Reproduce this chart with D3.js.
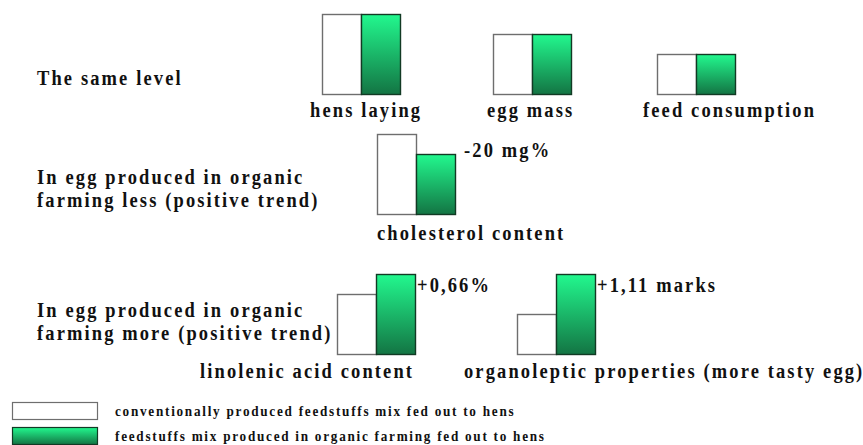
<!DOCTYPE html>
<html>
<head>
<meta charset="utf-8">
<script src="https://cdn.jsdelivr.net/npm/d3@7"></script>
<style>
  html, body { margin: 0; padding: 0; background: #fff; }
  svg { display: block; }
</style>
</head>
<body>
<svg id="chart" width="863" height="445"></svg>
<script>
// Indicators compared between the two feed mixes (relative levels)
const indicators = ["hens laying", "egg mass", "feed consumption", "cholesterol content",
                    "linolenic acid content", "organoleptic properties (more tasty egg)"];
const conventional = [4, 3, 2, 4, 3, 2];
const organic      = [4, 3, 2, 3, 4, 4];
const differences  = ["", "", "", "-20 mg%", "+0,66%", "+1,11 marks"];
const groupOf      = [0, 0, 0, 1, 2, 2];

const groupTitles = [
  ["The same level"],
  ["In egg produced in organic", "farming less (positive trend)"],
  ["In egg produced in organic", "farming more (positive trend)"]
];
const seriesNames = ["conventionally produced feedstuffs mix fed out to hens",
                     "feedstuffs mix produced in organic farming fed out to hens"];

// Layout of the panels
const baseY   = [94, 214, 354];        // bottom edge of bars for each group
const pairX   = [322, 493, 657, 377, 337, 517];   // left edge of each pair
const labelX  = [310, 487, 643, 377, 200, 464];
const labelY  = [117, 117, 117, 240, 378, 378];
const titleY  = [[85], [184, 207], [317, 340]];
const barW = 39;

const FONT = "'Liberation Serif', 'Times New Roman', Times, serif";
const SQUEEZE = 0.88;   // narrow, widely tracked lettering

const svg = d3.select("#chart");

const defs = svg.append("defs");
const grad = defs.append("linearGradient")
  .attr("id", "greenGrad").attr("x1", 0).attr("y1", 0).attr("x2", 0).attr("y2", 1);
grad.append("stop").attr("offset", "0%").attr("stop-color", "#22f88e");
grad.append("stop").attr("offset", "100%").attr("stop-color", "#137443");

const h = d3.scaleLinear().domain([0, 4]).range([0, 80]);

const data = indicators.map((name, i) => ({
  name, conv: conventional[i], org: organic[i], diff: differences[i], g: groupOf[i], i
}));

// Places a bold, horizontally condensed label with its baseline start at (x, y)
function addLabel(parent, x, y, txt, size = 21, spacing = 2.42) {
  return parent.append("text")
    .attr("transform", `translate(${x},${y}) scale(${SQUEEZE},1)`)
    .attr("font-family", FONT).attr("font-weight", "bold")
    .attr("font-size", size).attr("letter-spacing", spacing)
    .attr("fill", "#111")
    .text(txt);
}

const pairs = svg.selectAll("g.pair").data(data).join("g").attr("class", "pair");

pairs.append("rect")
  .attr("x", d => pairX[d.i] + 0.5)
  .attr("y", d => baseY[d.g] - h(d.conv) + 0.5)
  .attr("width", barW)
  .attr("height", d => h(d.conv))
  .attr("fill", "#fff").attr("stroke", "#6e6e6e").attr("stroke-width", 1.4);

pairs.append("rect")
  .attr("x", d => pairX[d.i] + barW + 0.5)
  .attr("y", d => baseY[d.g] - h(d.org) + 0.5)
  .attr("width", barW)
  .attr("height", d => h(d.org))
  .attr("fill", "url(#greenGrad)").attr("stroke", "#123a24").attr("stroke-width", 1.4);

pairs.each(function (d) {
  const g = d3.select(this);
  addLabel(g, labelX[d.i], labelY[d.i], d.name);
  if (d.diff) {
    const lower = d.conv > d.org;
    addLabel(g,
      pairX[d.i] + 2 * barW + (lower ? 9 : 2),
      baseY[d.g] - h(Math.max(d.conv, d.org)) + (lower ? 23 : 18),
      d.diff);
  }
});

// Group titles on the left
groupTitles.forEach((lines, g) => {
  lines.forEach((line, k) => addLabel(svg, 37, titleY[g][k], line));
});

// Legend
const legend = svg.append("g").selectAll("g").data(seriesNames).join("g")
  .attr("transform", (d, i) => `translate(12, ${402 + i * 25})`);
legend.append("rect")
  .attr("x", 0.5).attr("y", 0.5).attr("width", 85).attr("height", 17)
  .attr("fill", (d, i) => i === 0 ? "#fff" : "url(#greenGrad)")
  .attr("stroke", (d, i) => i === 0 ? "#6e6e6e" : "#123a24").attr("stroke-width", 1.2);
legend.each(function (d) {
  addLabel(d3.select(this), 103, 14, d, 15, 1.98);
});
</script>
</body>
</html>
